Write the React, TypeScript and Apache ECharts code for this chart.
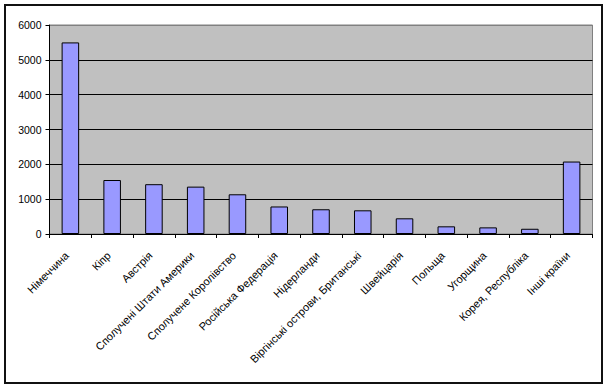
import React, { useEffect, useRef } from "react";
import * as echarts from "echarts";

const categories = [
  "Німеччина",
  "Кіпр",
  "Австрія",
  "Сполучені Штати Америки",
  "Сполучене Королівство",
  "Російська Федерація",
  "Нідерланди",
  "Віргінські острови, Британські",
  "Швейцарія",
  "Польща",
  "Угорщина",
  "Корея, Республіка",
  "Інші країни",
];
const values = [5500, 1550, 1430, 1360, 1140, 790, 710, 680, 450, 220, 190, 150, 2080];
const yTicks = [0, 1000, 2000, 3000, 4000, 5000, 6000];

export default function App() {
  const ref = useRef<HTMLDivElement>(null);
  useEffect(() => {
    document.body.style.margin = "0";
    const chart = echarts.init(ref.current!, null, { renderer: "svg" });
    chart.setOption({
      animation: false,
      backgroundColor: "#ffffff",
      textStyle: { fontFamily: "Arial, 'Liberation Sans', sans-serif" },
      grid: {
        left: 49.5,
        right: 15.5,
        top: 25,
        bottom: 155,
        show: true,
        backgroundColor: "#C0C0C0",
        borderColor: "#808080",
        borderWidth: 1,
      },
      xAxis: {
        type: "category",
        data: categories,
        boundaryGap: true,
        axisLine: { lineStyle: { color: "#000", width: 1 } },
        axisTick: { show: true, length: 4, lineStyle: { color: "#000" }, alignWithLabel: false },
        axisLabel: {
          rotate: 45,
          interval: 0,
          fontSize: 11,
          color: "#000",
          margin: 16,
          padding: [0, 5, 0, 0],
          fontFamily: "Arial, 'Liberation Sans', sans-serif",
        },
      },
      yAxis: {
        type: "value",
        min: yTicks[0],
        max: yTicks[yTicks.length - 1],
        interval: 1000,
        axisLine: { show: true, lineStyle: { color: "#000", width: 1 } },
        axisTick: { show: true, length: 4, lineStyle: { color: "#000" } },
        axisLabel: {
          fontSize: 10.5,
          color: "#000",
          margin: 8,
          formatter: (v: number) => String(v),
          fontFamily: "Arial, 'Liberation Sans', sans-serif",
        },
        splitLine: {
          show: true,
          lineStyle: {
            color: ["#000", "#000", "#000", "#000", "#000", "#000", "#808080"],
            width: 1,
          },
        },
      },
      series: [
        {
          type: "bar",
          data: values,
          barWidth: "42%",
          itemStyle: { color: "#9999FF", borderColor: "#000", borderWidth: 1 },
        },
      ],
      graphic: [
        {
          type: "rect",
          shape: { x: 5, y: 5, width: 597, height: 378 },
          style: { fill: "none", stroke: "#111", lineWidth: 2 },
          silent: true,
        },
      ],
    });
    return () => chart.dispose();
  }, []);
  return (
    <div
      ref={ref}
      style={{ position: "fixed", left: 0, top: 0, width: 608, height: 389 }}
    />
  );
}
